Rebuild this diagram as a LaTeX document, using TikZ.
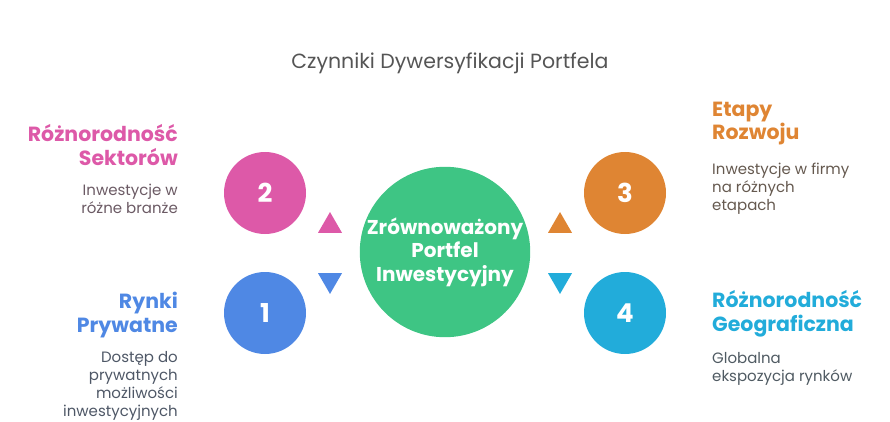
\documentclass[tikz,border=0pt]{standalone}
\usepackage{fontspec}
\setmainfont{Poppins}
\usetikzlibrary{shapes.geometric}
\definecolor{rose}{HTML}{DD59A8}
\definecolor{bleu}{HTML}{4F88E4}
\definecolor{orange}{HTML}{DF8533}
\definecolor{cyan}{HTML}{22ACDA}
\definecolor{vert}{HTML}{3EC584}
\definecolor{gristitre}{HTML}{555555}
\definecolor{grisrose}{HTML}{6B5A64}
\definecolor{grisbleu}{HTML}{4E5766}
\definecolor{grisorange}{HTML}{65594F}
\definecolor{griscyan}{HTML}{4F5A62}
\begin{document}
\begin{tikzpicture}[x=1pt,y=-1pt,
  bulle/.style={circle, fill=#1, minimum size=82pt, inner sep=0pt, text=white,
    font=\fontsize{26}{26}\selectfont\bfseries},
  pointe/.style={regular polygon, regular polygon sides=3, fill=#1, minimum size=27.7pt, inner sep=0pt},
  titre/.style={font=\fontsize{20.5}{24}\selectfont\bfseries, text=#1, inner sep=0pt},
  texte/.style={font=\fontsize{15}{18}\selectfont, text=#1, inner sep=0pt}]
\useasboundingbox (0,0) rectangle (890,422);
\node [font=\fontsize{20.5}{22}\selectfont, text=gristitre] (titre) at (450,63) {Czynniki Dywersyfikacji Portfela};
% cercles
\node [bulle=vert, minimum size=166pt, align=center, font=\fontsize{20}{23.5}\selectfont\bfseries] (centre) at (445,252) {Zrównoważony\\Portfel\\Inwestycyjny};
\node [bulle=rose] (cercle2) at (265,193) {2};
\node [bulle=bleu] (cercle1) at (265,313) {1};
\node [bulle=orange] (cercle3) at (625,193) {3};
\node [bulle=cyan] (cercle4) at (625,313) {4};
% pointes
\node [pointe=rose] (pointe2) at (330,225.9) {};
\node [pointe=bleu, shape border rotate=180] (pointe1) at (330,280.1) {};
\node [pointe=orange] (pointe3) at (560,225.9) {};
\node [pointe=cyan, shape border rotate=180] (pointe4) at (560,280.1) {};
% textes gauche
\node [titre=rose, align=right, anchor=base east] (titre2) at (178,165) {Różnorodność\\Sektorów};
\node [texte=grisrose, align=right, anchor=base east] (texte2) at (178,213) {Inwestycje w\\różne branże};
\node [titre=bleu, align=right, anchor=base east] (titre1) at (178,332) {Rynki\\Prywatne};
\node [texte=grisbleu, align=right, anchor=base east] (texte1) at (178,416) {Dostęp do\\prywatnych\\możliwości\\inwestycyjnych};
% textes droite
\node [titre=orange, align=left, anchor=base west] (titre3) at (712,140) {Etapy\\Rozwoju};
\node [texte=grisorange, align=left, anchor=base west] (texte3) at (712,210) {Inwestycje w firmy\\na różnych\\etapach};
\node [titre=cyan, align=left, anchor=base west] (titre4) at (712,331) {Różnorodność\\Geograficzna};
\node [texte=griscyan, align=left, anchor=base west] (texte4) at (712,381) {Globalna\\ekspozycja rynków};
\end{tikzpicture}
\end{document}
